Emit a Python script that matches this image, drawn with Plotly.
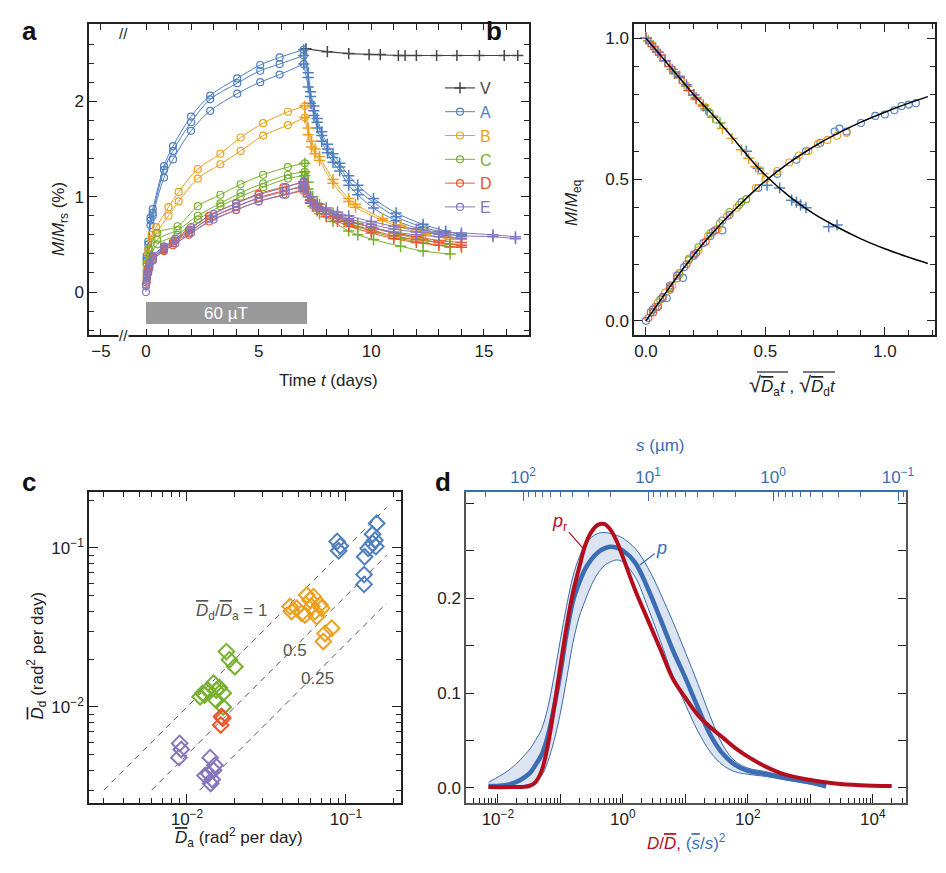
import plotly.graph_objects as go

FONT = "Liberation Sans, Arial, Helvetica, sans-serif"
OFF = 8                      # the page body margin moves the figure 8 px right and down
W, H = 946 - 2 * OFF, 873 - 2 * OFF
INK = "#222222"

COLORS = {"V": "#454545", "A": "#4f7fc0", "B": "#eba020", "C": "#78b030",
          "D": "#e9562a", "E": "#8676be"}
D_BLUE = "#3b6db2"
D_RED = "#b40d1e"

# ---------------- panel a : magnetisation vs time ----------------
field_on = [0, 7.15]          # days with the 60 uT field

a_V_t = [7.1, 8.05, 9.0, 9.9, 10.4, 11.2, 11.5, 12.0, 12.9, 13.8, 14.8, 15.9, 16.5]
a_V_m = [2.55, 2.52, 2.50, 2.49, 2.49, 2.48, 2.48, 2.48, 2.48, 2.48, 2.48, 2.48, 2.48]

a_A_t_acq = [0.03, 0.1, 0.2, 0.3, 0.8, 1.2, 2.0, 2.85, 4.05, 5.07, 5.93, 7.0]
a_A_acq = [[0.38, 0.53, 0.78, 0.87, 1.32, 1.53, 1.84, 2.06, 2.24, 2.38, 2.46, 2.54],
           [0.35, 0.50, 0.75, 0.83, 1.28, 1.48, 1.78, 2.02, 2.19, 2.32, 2.39, 2.48],
           [0.33, 0.45, 0.70, 0.80, 1.20, 1.39, 1.69, 1.90, 2.08, 2.20, 2.28, 2.39]]
a_A_t_dec = [7.0, 7.2, 7.3, 7.45, 7.6, 7.8, 8.05, 8.3, 8.6, 9.0, 9.4, 10.1, 11.1, 12.3, 13.3, 14.0]
a_A_dec = [[2.54, 2.30, 2.10, 1.95, 1.82, 1.68, 1.55, 1.45, 1.35, 1.22, 1.12, 0.98, 0.83, 0.71, 0.64, 0.60],
           [2.48, 2.25, 2.05, 1.90, 1.78, 1.64, 1.50, 1.41, 1.31, 1.17, 1.07, 0.94, 0.79, 0.68, 0.62, 0.58],
           [2.39, 2.15, 1.98, 1.85, 1.72, 1.58, 1.46, 1.36, 1.27, 1.12, 1.02, 0.88, 0.75, 0.65, 0.59, 0.56]]

a_B_t_acq = [0.03, 0.1, 0.25, 0.45, 1.0, 1.45, 2.3, 3.3, 4.2, 5.2, 6.3, 7.05]
a_B_acq = [[0.30, 0.45, 0.60, 0.68, 0.89, 1.05, 1.29, 1.45, 1.62, 1.77, 1.89, 1.95],
           [0.28, 0.40, 0.55, 0.62, 0.80, 0.95, 1.19, 1.34, 1.48, 1.64, 1.75, 1.83]]
a_B_t_dec = [7.05, 7.2, 7.35, 7.5, 7.7, 8.3, 9.0, 9.3, 10.5, 11.3, 12.4, 13.5]
a_B_dec = [[1.95, 1.72, 1.58, 1.50, 1.42, 1.18, 0.98, 0.92, 0.77, 0.70, 0.63, 0.57],
           [1.83, 1.65, 1.52, 1.45, 1.38, 1.14, 0.95, 0.89, 0.75, 0.68, 0.61, 0.55]]

a_C_t_acq = [0.03, 0.15, 0.5, 1.4, 2.3, 3.3, 4.2, 5.2, 6.3, 7.05]
a_C_acq = [[0.30, 0.45, 0.62, 0.69, 0.90, 1.02, 1.13, 1.23, 1.31, 1.35],
           [0.22, 0.38, 0.55, 0.65, 0.80, 0.93, 1.04, 1.14, 1.23, 1.26],
           [0.18, 0.34, 0.50, 0.60, 0.76, 0.90, 1.00, 1.10, 1.19, 1.22]]
a_C_t_dec = [7.05, 7.2, 7.4, 7.7, 8.3, 9.0, 9.4, 10.1, 11.3, 12.3, 13.5]
a_C_dec = [[1.35, 1.15, 1.00, 0.92, 0.83, 0.75, 0.72, 0.67, 0.60, 0.55, 0.50],
           [1.26, 1.08, 0.95, 0.88, 0.79, 0.71, 0.68, 0.63, 0.56, 0.52, 0.47],
           [1.22, 1.00, 0.90, 0.82, 0.74, 0.64, 0.60, 0.55, 0.48, 0.43, 0.40]]

a_D_t_acq = [0.03, 0.1, 0.3, 0.8, 1.2, 1.9, 2.8, 4.0, 5.0, 6.1, 7.0]
a_D_acq = [[0.15, 0.25, 0.37, 0.47, 0.53, 0.65, 0.80, 0.93, 1.03, 1.10, 1.15],
           [0.12, 0.22, 0.35, 0.45, 0.51, 0.62, 0.77, 0.89, 0.99, 1.06, 1.10],
           [0.10, 0.20, 0.33, 0.43, 0.49, 0.60, 0.74, 0.86, 0.95, 1.02, 1.06]]
a_D_t_dec = [7.0, 7.3, 7.6, 8.0, 8.5, 9.0, 10.0, 11.0, 12.0, 13.0, 14.0]
a_D_dec = [[1.15, 1.00, 0.92, 0.86, 0.80, 0.75, 0.68, 0.62, 0.58, 0.54, 0.52],
           [1.10, 0.96, 0.88, 0.82, 0.77, 0.72, 0.65, 0.59, 0.55, 0.52, 0.49],
           [1.06, 0.93, 0.85, 0.79, 0.74, 0.69, 0.62, 0.56, 0.52, 0.49, 0.47]]

a_E_t_acq = [0.0, 0.05, 0.15, 0.3, 0.8, 1.3, 2.0, 3.0, 4.0, 5.0, 6.2, 7.0]
a_E_acq = [[0.00, 0.20, 0.30, 0.38, 0.48, 0.56, 0.68, 0.82, 0.93, 1.02, 1.10, 1.16],
           [0.08, 0.17, 0.27, 0.35, 0.46, 0.54, 0.65, 0.79, 0.90, 0.98, 1.06, 1.12],
           [0.06, 0.15, 0.25, 0.33, 0.44, 0.51, 0.62, 0.76, 0.86, 0.95, 1.02, 1.08]]
a_E_t_dec = [7.0, 7.3, 7.6, 8.0, 8.5, 9.0, 10.0, 11.0, 12.0, 13.0, 14.0, 15.4, 16.4]
a_E_dec = [[1.16, 1.00, 0.93, 0.88, 0.84, 0.80, 0.74, 0.69, 0.66, 0.63, 0.62, 0.60, 0.58],
           [1.12, 0.97, 0.90, 0.85, 0.81, 0.77, 0.71, 0.66, 0.63, 0.61, 0.59, 0.58, 0.56],
           [1.08, 0.94, 0.87, 0.82, 0.78, 0.74, 0.68, 0.63, 0.60, 0.58, 0.56]]

# ---------------- panel b : scaled curves ----------------
b_fit_x = [0, 0.05, 0.1, 0.15, 0.2, 0.25, 0.3, 0.35, 0.4, 0.45, 0.5, 0.6, 0.7, 0.8, 0.9, 1.0, 1.1, 1.18]
b_fit_acq = [0, 0.06, 0.12, 0.178, 0.232, 0.283, 0.33, 0.375, 0.417, 0.457, 0.495, 0.56, 0.615, 0.662, 0.703, 0.738, 0.77, 0.793]
b_fit_dec = [1.0, 0.95, 0.9, 0.85, 0.8, 0.755, 0.71, 0.66, 0.61, 0.56, 0.515, 0.44, 0.38, 0.332, 0.29, 0.255, 0.225, 0.203]

b_acq_x = {
    "A": [0.0, 0.03, 0.05, 0.087, 0.1, 0.155, 0.2, 0.27, 0.32, 0.4, 0.47, 0.55, 0.63, 0.67, 0.73, 0.79, 0.81, 0.84, 0.9, 0.96, 1.0, 1.04, 1.07, 1.1, 1.13],
    "B": [0.02, 0.05, 0.08, 0.11, 0.14, 0.18, 0.22, 0.26, 0.3, 0.34, 0.38, 0.42, 0.46, 0.5, 0.55, 0.6, 0.64, 0.68, 0.72, 0.76, 0.8, 0.84],
    "C": [0.03, 0.06, 0.1, 0.14, 0.18, 0.22, 0.27, 0.31, 0.35, 0.39, 0.42],
    "D": [0.01, 0.03, 0.05, 0.07, 0.1, 0.13, 0.17, 0.21, 0.25, 0.29],
    "E": [0.02, 0.04, 0.07, 0.1, 0.13, 0.16, 0.2, 0.24, 0.28, 0.32, 0.35],
}
b_acq_y = {
    "A": [0.0, 0.04, 0.05, 0.081, 0.11, 0.152, 0.23, 0.3, 0.32, 0.42, 0.47, 0.52, 0.57, 0.6, 0.63, 0.67, 0.68, 0.67, 0.7, 0.725, 0.73, 0.745, 0.76, 0.765, 0.77],
    "B": [0.03, 0.065, 0.1, 0.125, 0.17, 0.22, 0.25, 0.3, 0.325, 0.37, 0.4, 0.43, 0.47, 0.5, 0.53, 0.56, 0.585, 0.6, 0.625, 0.64, 0.655, 0.665],
    "C": [0.04, 0.075, 0.12, 0.165, 0.215, 0.26, 0.31, 0.345, 0.385, 0.41, 0.43],
    "D": [0.01, 0.03, 0.05, 0.08, 0.115, 0.15, 0.2, 0.24, 0.28, 0.32],
    "E": [0.03, 0.05, 0.085, 0.125, 0.16, 0.19, 0.235, 0.275, 0.315, 0.355, 0.375],
}
b_dec_x = {
    "A": [0.0, 0.05, 0.12, 0.2, 0.256, 0.42, 0.47, 0.507, 0.56, 0.61, 0.63, 0.647, 0.67, 0.765, 0.8],
    "B": [0.0, 0.02, 0.05, 0.08, 0.12, 0.16, 0.2, 0.24, 0.28, 0.32, 0.36, 0.4, 0.43, 0.46, 0.49],
    "C": [0.01, 0.04, 0.08, 0.12, 0.17, 0.21, 0.25, 0.28, 0.31],
    "D": [0.0, 0.03, 0.06, 0.1, 0.14, 0.18, 0.21, 0.24],
    "E": [0.0, 0.02, 0.05, 0.08, 0.11, 0.14, 0.17, 0.2],
}
b_dec_y = {
    "A": [1.0, 0.95, 0.88, 0.8, 0.745, 0.6, 0.54, 0.48, 0.47, 0.427, 0.42, 0.41, 0.4, 0.333, 0.339],
    "B": [1.0, 0.985, 0.95, 0.92, 0.875, 0.84, 0.8, 0.765, 0.725, 0.68, 0.645, 0.605, 0.575, 0.545, 0.52],
    "C": [0.99, 0.96, 0.92, 0.875, 0.83, 0.79, 0.75, 0.72, 0.7],
    "D": [1.0, 0.97, 0.94, 0.9, 0.86, 0.815, 0.785, 0.76],
    "E": [1.0, 0.98, 0.95, 0.92, 0.89, 0.865, 0.835, 0.8],
}

# ---------------- panel c : diffusion coefficients ----------------
c_Da = {
    "A": [0.088, 0.092, 0.090, 0.130, 0.130, 0.131, 0.138, 0.147, 0.156, 0.147, 0.152, 0.154],
    "B": [0.0455, 0.0489, 0.0526, 0.0567, 0.0594, 0.0608, 0.0638, 0.0654, 0.0686, 0.0703, 0.0552, 0.0623, 0.0738, 0.072, 0.0813, 0.0445],
    "C": [0.0177, 0.0185, 0.020, 0.0121, 0.0126, 0.0135, 0.0147, 0.0153, 0.0160, 0.0169, 0.0153, 0.0169, 0.0129],
    "D": [0.0165, 0.0168, 0.0163],
    "E": [0.0090, 0.0092, 0.0089, 0.0140, 0.0150, 0.0137, 0.0130, 0.0144, 0.0147, 0.0141],
}
c_Dd = {
    "A": [0.110, 0.103, 0.096, 0.068, 0.059, 0.088, 0.0995, 0.107, 0.143, 0.122, 0.112, 0.102],
    "B": [0.0398, 0.0418, 0.0388, 0.0506, 0.0471, 0.0428, 0.0398, 0.037, 0.0439, 0.0418, 0.0379, 0.0494, 0.029, 0.0258, 0.0313, 0.0428],
    "C": [0.0223, 0.0198, 0.0179, 0.0116, 0.0122, 0.0128, 0.0141, 0.0128, 0.0132, 0.0122, 0.0110, 0.0100, 0.0119],
    "D": [0.0087, 0.0085, 0.0077],
    "E": [0.0059, 0.0054, 0.0048, 0.0048, 0.0043, 0.0038, 0.0037, 0.0035, 0.0040, 0.0033],
}
c_ratio_labels = ["1", "0.5", "0.25"]
c_ratio_x = [[0.003, 0.18], [0.006, 0.18], [0.012, 0.18]]
c_ratio_y = [[0.003, 0.18], [0.003, 0.09], [0.003, 0.045]]

# ---------------- panel d : distributions ----------------
d_x = [0.00708, 0.0158, 0.0316, 0.0398, 0.0501, 0.0631, 0.0794, 0.1, 0.126, 0.158, 0.2, 0.251, 0.316,
       0.398, 0.501, 0.631, 0.794, 1.0, 1.58, 2.51, 3.98, 6.31, 10, 15.8, 25.1, 39.8, 63.1, 100, 200,
       398, 1000, 1780]
d_p = [0.002, 0.004, 0.015, 0.024, 0.035, 0.055, 0.085, 0.121, 0.163, 0.196, 0.216, 0.231, 0.241,
       0.248, 0.252, 0.254, 0.253, 0.25, 0.237, 0.21, 0.178, 0.145, 0.116, 0.085, 0.056, 0.036, 0.024,
       0.018, 0.0145, 0.0105, 0.006, 0.0015]
d_p_hi = [0.006, 0.02, 0.04, 0.05, 0.062, 0.085, 0.118, 0.156, 0.192, 0.222, 0.243, 0.256, 0.264,
          0.268, 0.269, 0.268, 0.266, 0.263, 0.252, 0.232, 0.205, 0.175, 0.143, 0.11, 0.075, 0.045,
          0.028, 0.021, 0.017, 0.012, 0.007, 0.004]
d_p_lo = [0.0, 0.001, 0.004, 0.007, 0.013, 0.028, 0.05, 0.079, 0.115, 0.152, 0.18, 0.198, 0.214,
          0.226, 0.234, 0.238, 0.24, 0.238, 0.222, 0.19, 0.155, 0.118, 0.088, 0.06, 0.038, 0.024,
          0.017, 0.0145, 0.012, 0.0085, 0.004, 0.001]
d_xr = [0.00708, 0.0158, 0.0316, 0.0398, 0.0501, 0.0631, 0.0794, 0.1, 0.126, 0.158, 0.2, 0.251, 0.316,
        0.398, 0.501, 0.631, 0.794, 1.0, 1.58, 2.51, 3.98, 6.31, 10, 15.8, 25.1, 39.8, 63.1, 100, 200,
        398, 1000, 2510, 6310, 20000]
d_pr = [0.001, 0.001, 0.002, 0.006, 0.018, 0.045, 0.085, 0.128, 0.17, 0.205, 0.232, 0.256, 0.27,
        0.277, 0.278, 0.272, 0.26, 0.243, 0.208, 0.177, 0.146, 0.115, 0.095, 0.077, 0.064, 0.053,
        0.042, 0.033, 0.022, 0.014, 0.0085, 0.0048, 0.003, 0.002]


def px(x):
    # page pixel -> paper fraction
    return (x - OFF) / W


def py(y):
    return 1 - (y - OFF) / H


def bar(s):
    # letter with an overbar
    return "<span style='text-decoration:overline'>%s</span>" % s


fig = go.Figure()

# ---- panel a traces
fig.add_trace(go.Scatter(x=a_V_t, y=a_V_m, mode="lines+markers", xaxis="x", yaxis="y",
                         line=dict(color=COLORS["V"], width=1.2),
                         marker=dict(symbol="cross-thin", size=8, color=COLORS["V"],
                                     line=dict(width=1.5, color=COLORS["V"])),
                         name="<span style='color:%s'>V</span>" % COLORS["V"], legendrank=1))

groups_a = [("A", a_A_t_acq, a_A_acq, a_A_t_dec, a_A_dec),
            ("B", a_B_t_acq, a_B_acq, a_B_t_dec, a_B_dec),
            ("C", a_C_t_acq, a_C_acq, a_C_t_dec, a_C_dec),
            ("D", a_D_t_acq, a_D_acq, a_D_t_dec, a_D_dec),
            ("E", a_E_t_acq, a_E_acq, a_E_t_dec, a_E_dec)]
for rank, (key, t_acq, acq, t_dec, dec) in enumerate(groups_a, start=2):
    c = COLORS[key]
    for i, (ya, yd) in enumerate(zip(acq, dec)):
        fig.add_trace(go.Scatter(x=t_dec[:len(yd)], y=yd, mode="lines+markers", xaxis="x", yaxis="y",
                                 line=dict(color=c, width=1, shape="spline"),
                                 marker=dict(symbol="cross-thin", size=8, color=c, line=dict(width=1.5, color=c)),
                                 showlegend=False))
        fig.add_trace(go.Scatter(x=t_acq, y=ya, mode="lines+markers", xaxis="x", yaxis="y",
                                 line=dict(color=c, width=1, shape="spline"),
                                 marker=dict(symbol="circle-open", size=7, color=c, line=dict(width=1.2)),
                                 name="<span style='color:%s'>%s</span>" % (c, key),
                                 legendrank=rank, showlegend=(i == 0)))

# ---- panel b traces
for key in ["A", "B", "C", "D", "E"]:
    c = COLORS[key]
    fig.add_trace(go.Scatter(x=b_acq_x[key], y=b_acq_y[key], mode="markers", xaxis="x2", yaxis="y2",
                             marker=dict(symbol="circle-open", size=7, color=c, line=dict(width=1.1)),
                             showlegend=False))
    fig.add_trace(go.Scatter(x=b_dec_x[key], y=b_dec_y[key], mode="markers", xaxis="x2", yaxis="y2",
                             marker=dict(symbol="cross-thin", size=8, color=c, line=dict(width=1.5, color=c)),
                             showlegend=False))
for fit in (b_fit_acq, b_fit_dec):
    fig.add_trace(go.Scatter(x=b_fit_x, y=fit, mode="lines", xaxis="x2", yaxis="y2",
                             line=dict(color="black", width=1.5, shape="spline"), showlegend=False))

# ---- panel c traces
for rx, ry in zip(c_ratio_x, c_ratio_y):
    fig.add_trace(go.Scatter(x=rx, y=ry, mode="lines", xaxis="x3", yaxis="y3",
                             line=dict(color="#555555", width=1, dash="6px,5px"), showlegend=False))
for key in ["A", "B", "C", "D", "E"]:
    c = COLORS[key]
    fig.add_trace(go.Scatter(x=c_Da[key], y=c_Dd[key], mode="markers", xaxis="x3", yaxis="y3",
                             marker=dict(symbol="diamond-open", size=12, color=c, line=dict(width=2)),
                             showlegend=False))

# ---- panel d traces
fig.add_trace(go.Scatter(x=d_x, y=d_p_hi, mode="lines", xaxis="x4", yaxis="y4",
                         line=dict(color=D_BLUE, width=1, shape="spline"), showlegend=False))
fig.add_trace(go.Scatter(x=d_x, y=d_p_lo, mode="lines", xaxis="x4", yaxis="y4", fill="tonexty",
                         fillcolor="rgba(190,205,228,0.55)",
                         line=dict(color=D_BLUE, width=1, shape="spline"), showlegend=False))
fig.add_trace(go.Scatter(x=d_x, y=d_p, mode="lines", xaxis="x4", yaxis="y4",
                         line=dict(color=D_BLUE, width=4.5, shape="spline"), showlegend=False))
fig.add_trace(go.Scatter(x=d_xr, y=d_pr, mode="lines", xaxis="x4", yaxis="y4",
                         line=dict(color=D_RED, width=4, shape="spline"), showlegend=False))
# empty trace so the top (s) axis is drawn
fig.add_trace(go.Scatter(x=[10], y=[None], xaxis="x5", yaxis="y4", showlegend=False))

# ---- axes
tickfont = dict(family=FONT, size=17, color=INK)
frame = dict(showline=True, linecolor=INK, linewidth=1.5, mirror="ticks", ticks="inside",
             tickcolor=INK, tickwidth=1.2, showgrid=False, zeroline=False, tickfont=tickfont,
             automargin=False)


def pow10(n):
    return "10<sup>%s</sup>" % (str(n).replace("-", "\u2212"))


log_minor = [k * 10.0 ** n for n in range(-4, 6) for k in range(2, 10)]

fig.update_layout(
    template="none",
    xaxis=dict(frame, domain=[px(89), px(529)], anchor="y", range=[-2.53, 17.0],
               tickvals=[-2, 0, 5, 10, 15], ticktext=["\u22125", "0", "5", "10", "15"], ticklen=6,
               minor=dict(tickvals=[v for v in range(1, 17) if v % 5], ticks="inside", ticklen=6,
                          tickcolor=INK)),
    yaxis=dict(frame, domain=[py(335), py(24)], anchor="x", range=[-0.45, 2.81],
               tickvals=[0, 1, 2], ticklen=8,
               minor=dict(dtick=0.2, tick0=0, ticks="inside", ticklen=5, tickcolor=INK)),
    xaxis2=dict(frame, domain=[px(634), px(935)], anchor="y2", range=[-0.05, 1.21],
                tickvals=[0, 0.5, 1.0], ticktext=["0.0", "0.5", "1.0"], ticklen=8,
                minor=dict(dtick=0.1, tick0=0, ticks="inside", ticklen=5, tickcolor=INK)),
    yaxis2=dict(frame, domain=[py(335), py(24)], anchor="x2", range=[-0.05, 1.05],
                tickvals=[0, 0.5, 1.0], ticktext=["0.0", "0.5", "1.0"], ticklen=8,
                minor=dict(dtick=0.1, tick0=0, ticks="inside", ticklen=5, tickcolor=INK)),
    xaxis3=dict(frame, domain=[px(89), px(401)], anchor="y3", type="log", range=[-2.616, -0.654],
                tickvals=[0.01, 0.1], ticktext=[pow10(-2), pow10(-1)], ticklen=9,
                minor=dict(tickvals=log_minor, ticks="inside", ticklen=5, tickcolor=INK)),
    yaxis3=dict(frame, domain=[py(803), py(492)], anchor="x3", type="log", range=[-2.604, -0.648],
                tickvals=[0.01, 0.1], ticktext=[pow10(-2), pow10(-1)], ticklen=9,
                minor=dict(tickvals=log_minor, ticks="inside", ticklen=5, tickcolor=INK)),
    xaxis4=dict(frame, domain=[px(466), px(906)], anchor="y4", type="log", range=[-2.51, 4.53],
                mirror=False, linecolor="#555555",
                tickvals=[10.0 ** n for n in range(-2, 5)],
                ticktext=[pow10(n) if n % 2 == 0 else "" for n in range(-2, 5)], ticklen=9,
                minor=dict(tickvals=log_minor, ticks="inside", ticklen=5, tickcolor=INK)),
    xaxis5=dict(frame, domain=[px(466), px(906)], anchor="y4", overlaying="x4", side="top",
                type="log", range=[2.456, -1.064], mirror=False, linecolor=D_BLUE, tickcolor=D_BLUE,
                tickvals=[100, 10, 1, 0.1], ticktext=[pow10(2), pow10(1), pow10(0), pow10(-1)],
                ticklen=9, tickfont=dict(family=FONT, size=17, color=D_BLUE),
                minor=dict(tickvals=log_minor, ticks="inside", ticklen=5, tickcolor=D_BLUE)),
    yaxis4=dict(frame, domain=[py(803), py(492)], anchor="x4", range=[-0.0158, 0.3116],
                linecolor="#555555",
                tickvals=[0, 0.1, 0.2], ticktext=["0.0", "0.1", "0.2"], ticklen=8,
                minor=dict(dtick=0.05, tick0=0, ticks="inside", ticklen=8, tickcolor=INK)),
)

# ---- shapes
fig.add_shape(type="rect", xref="x", yref="y", x0=field_on[0], x1=field_on[1], y0=-0.105, y1=-0.335,
              fillcolor="#999999", line=dict(width=0), layer="below")
# overbars of the square roots in the panel b axis title
for x0, x1 in [(757, 788), (803, 835)]:
    fig.add_shape(type="line", xref="paper", yref="paper", x0=px(x0), x1=px(x1), y0=py(372), y1=py(372),
                  line=dict(color=INK, width=1.2))

# ---- annotations
ann = []


def note(text, x, y, size=17, color=INK, angle=0, xref="paper", yref="paper", **kw):
    ann.append(dict(text=text, x=x, y=y, xref=xref, yref=yref, showarrow=False, textangle=angle,
                    font=dict(family=FONT, size=size, color=color), **kw))


for lab, x, y in [("a", 20, 14), ("b", 494, 14), ("c", 20, 482), ("d", 443, 482)]:
    note("<b>%s</b>" % lab, px(x), py(y), size=26, color="#111111")

note("60 \u00b5T", 3.55, -0.22, color="white", xref="x", yref="y")
for yy in (24, 335):
    note("//", -0.98, py(yy), size=15, xref="x", bgcolor="white", borderpad=0)

note("Time <i>t</i> (days)", px(328), py(380))
note("<i>M</i>/<i>M</i><sub>rs</sub> (%)", px(47), py(180), angle=-90)
note("<i>M</i>/<i>M</i><sub>eq</sub>", px(573), py(178), angle=-90)
# texts with styled spans are laid out off-centre by plotly; positions below allow for that
note("<span style='font-size:22px'>\u221a</span>" + bar("<i>D</i>") + "<sub>a</sub><i>t</i> , "
     "<span style='font-size:22px'>\u221a</span>" + bar("<i>D</i>") + "<sub>d</sub><i>t</i>", px(838), py(385))

note(bar("<i>D</i>") + "<sub>d</sub> (rad<sup>2</sup> per day)", px(22), py(722), angle=-90)
note(bar("<i>D</i>") + "<sub>a</sub> (rad<sup>2</sup> per day)", px(173), py(852))
note(bar("<i>D</i>") + "<sub>d</sub>/" + bar("<i>D</i>") + "<sub>a</sub> = " + c_ratio_labels[0],
     px(194), py(625), color="#555555")
note(c_ratio_labels[1], px(281), py(662), color="#555555")
note(c_ratio_labels[2], px(299), py(690), color="#555555")

note("<span style='color:%s'><i>D</i>/%s,</span> <span style='color:%s'>(%s/<i>s</i>)<sup>2</sup></span>"
     % (D_RED, bar("<i>D</i>"), D_BLUE, bar("<i>s</i>")), px(728), py(855))
note("<i>s</i> (\u00b5m)", px(687), py(446), color=D_BLUE)

ann.append(dict(text="<i>p</i><sub>r</sub>", x=-0.64, y=0.2526, xref="x4", yref="y4", showarrow=True,
                ax=-23, ay=-26, arrowhead=0, arrowwidth=1.2, arrowcolor=D_RED,
                font=dict(family=FONT, size=18, color=D_RED)))
ann.append(dict(text="<i>p</i>", x=0.272, y=0.2347, xref="x4", yref="y4", showarrow=True,
                ax=22, ay=-17, arrowhead=0, arrowwidth=1.2, arrowcolor=D_BLUE,
                font=dict(family=FONT, size=18, color=D_BLUE)))

fig.update_layout(
    width=W, height=H, margin=dict(l=0, r=0, t=0, b=0),
    paper_bgcolor="white", plot_bgcolor="white",
    font=dict(family=FONT, size=17, color=INK),
    annotations=ann,
    legend=dict(x=px(440), y=py(71), xanchor="left", yanchor="top", bgcolor="rgba(0,0,0,0)",
                font=dict(family=FONT, size=16), tracegroupgap=0, itemwidth=30, traceorder="normal"),
)

fig.write_html("out.html")
